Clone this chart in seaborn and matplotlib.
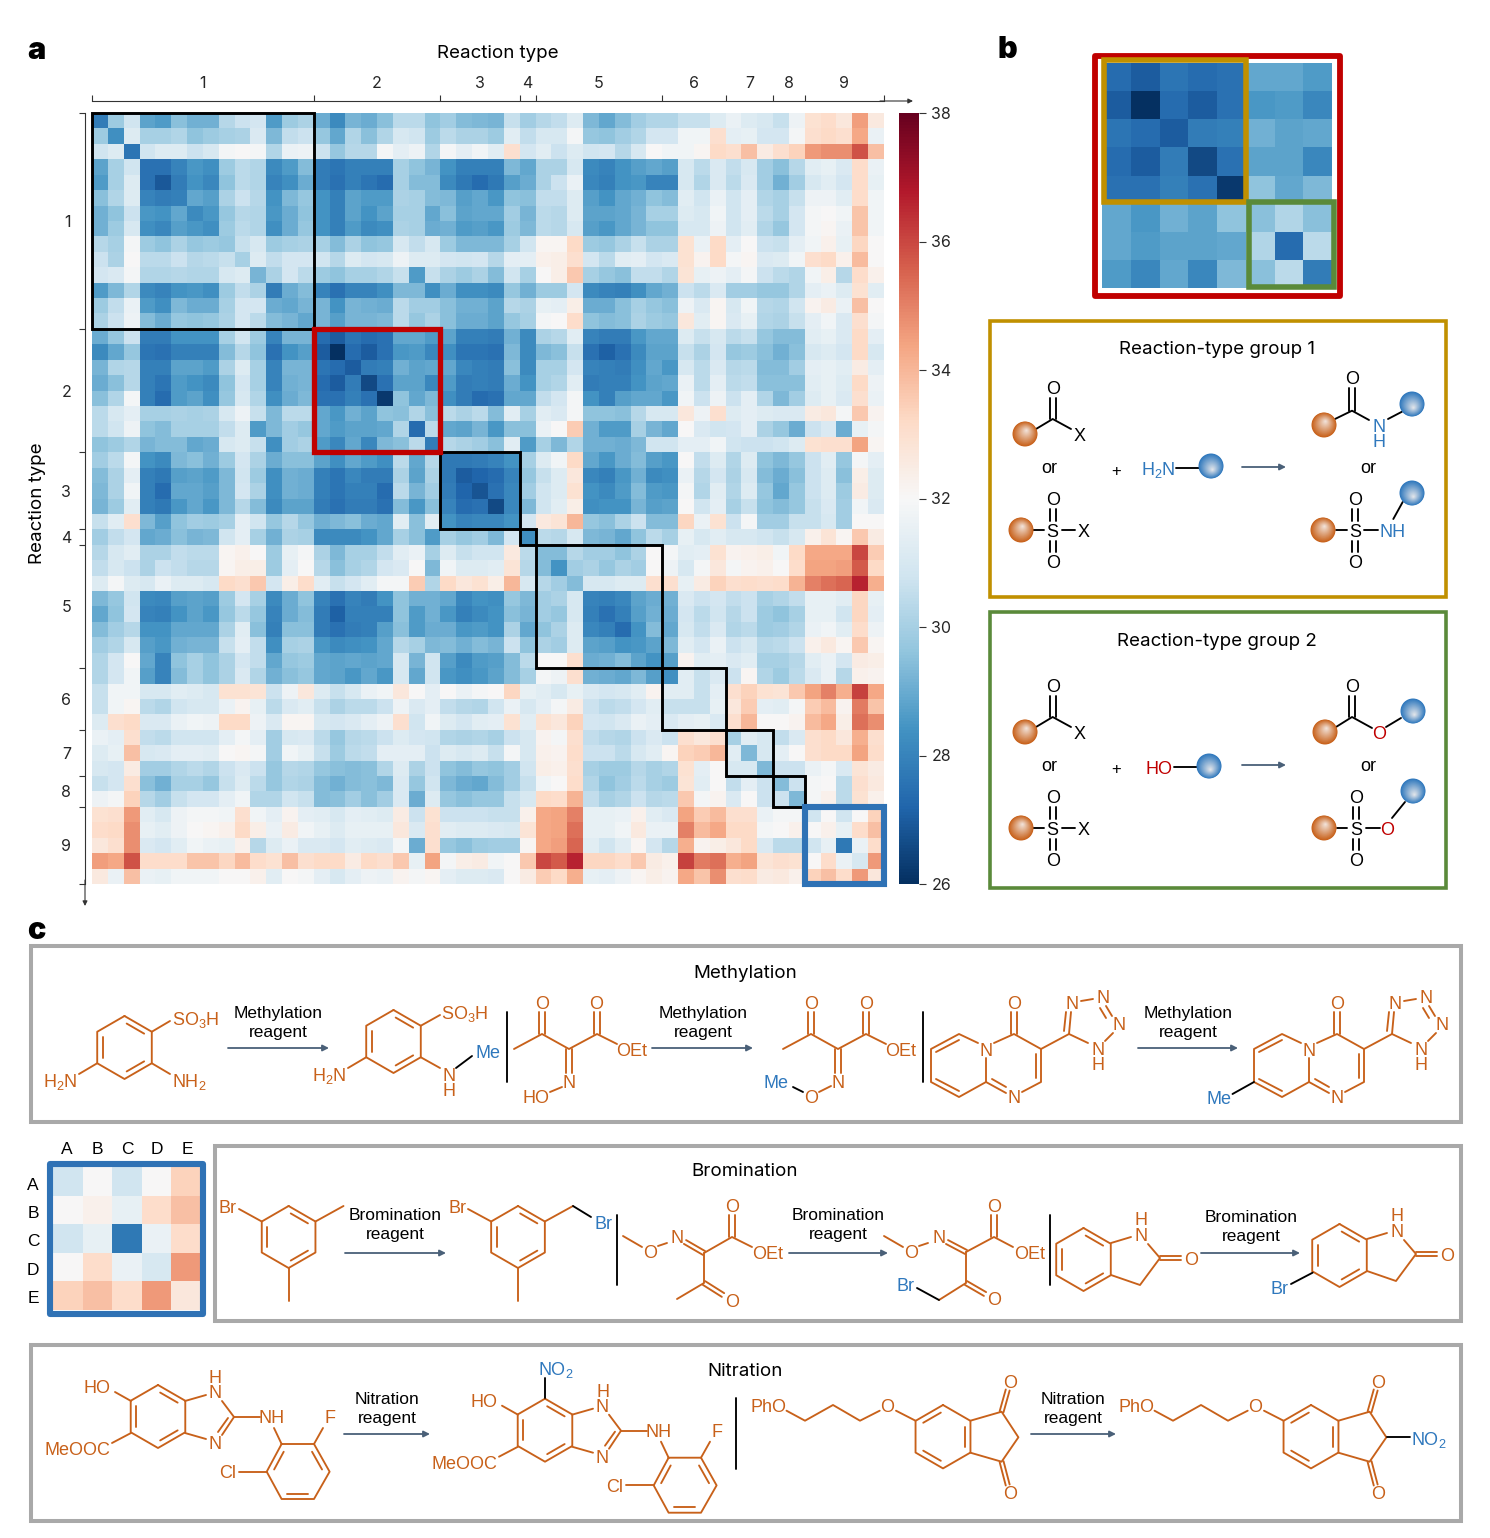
import matplotlib.pyplot as plt
import numpy as np
import seaborn as sns
from matplotlib.patches import Rectangle, Circle
from matplotlib.colors import to_rgb

# Upper triangle of the symmetric reaction-type matrix
row_00 = [27.8,29.8,30.8,28.8,28.6,29.5,29.1,29.1,30.3,30.7,30.9,28.6,29.8,30.1,29.0,28.2,29.2,29.0,29.5,30.4,30.4,29.6,29.9,29.4,29.3,29.2,30.6,29.9,30.3,30.5,31.2,29.3,28.9,29.4,29.9,30.2,30.2,30.6,30.6,31.2,31.6,31.2,31.0,30.6,31.7,32.9,33.1,32.7,34.5,32.6]
row_01 = [28.3,31.2,30.0,30.0,30.2,29.6,29.8,30.0,30.1,31.1,29.3,30.5,30.7,29.7,28.9,30.2,29.5,30.2,31.0,30.8,29.8,30.4,30.1,30.1,29.8,31.3,30.5,31.0,31.0,31.9,29.7,29.6,29.9,30.2,30.9,30.9,31.8,31.8,33.0,31.4,31.5,30.9,30.9,31.9,33.0,33.2,33.0,34.3,31.6]
row_02 = [27.6,30.8,31.2,31.2,30.7,31.0,31.9,32.0,31.9,30.2,31.6,31.7,30.7,29.7,30.3,30.3,31.9,31.4,31.7,30.2,31.9,31.4,31.8,31.3,33.0,30.9,31.3,30.7,31.2,30.8,30.9,30.3,31.0,32.0,31.8,31.8,32.1,33.2,33.0,33.8,32.5,33.0,33.4,34.6,34.8,34.8,35.8,33.8]
row_03 = [27.5,27.5,28.0,28.5,28.3,29.8,30.4,30.2,28.2,28.6,29.4,27.8,27.6,27.9,27.9,27.9,30.0,29.6,29.2,28.4,27.9,27.9,27.9,29.3,28.9,30.1,30.1,31.0,28.2,28.0,28.4,28.7,28.9,28.7,31.0,30.4,31.1,30.5,31.0,29.9,29.5,30.3,31.3,31.5,31.1,33.1,31.6]
row_04 = [26.9,27.8,28.4,28.1,29.6,30.4,30.2,28.0,28.3,29.0,27.8,27.5,27.9,27.6,27.4,30.0,29.4,29.4,28.2,27.7,27.4,27.7,28.7,29.0,30.1,30.7,31.6,28.1,27.9,28.4,28.5,28.0,28.0,31.0,30.2,31.1,30.4,31.1,29.9,29.1,29.9,31.0,31.3,30.9,33.1,31.5]
row_05 = [27.9,28.9,28.7,30.1,30.7,30.3,28.4,29.3,29.7,28.4,27.9,28.8,28.6,28.6,30.1,30.0,29.4,29.3,28.7,28.9,28.5,29.6,29.5,30.5,30.5,31.2,28.7,28.4,28.9,29.1,29.6,29.4,31.3,30.8,31.6,30.8,31.4,30.2,30.0,30.6,31.7,31.7,31.3,33.1,31.8]
row_06 = [28.2,28.5,29.7,30.3,30.2,28.5,29.0,29.6,28.4,27.9,28.8,28.4,28.8,30.0,30.0,28.9,29.5,28.8,28.9,28.9,29.9,29.2,30.4,30.3,31.2,28.8,28.8,28.9,29.2,30.0,30.0,31.2,31.0,31.8,30.8,31.4,30.4,30.0,30.9,31.9,32.0,31.8,33.7,31.8]
row_07 = [28.3,29.8,30.4,30.2,28.3,29.0,29.7,28.4,27.9,28.6,28.2,28.3,30.1,30.0,29.0,29.1,28.6,28.7,28.5,29.8,29.3,30.4,30.3,31.0,28.7,28.5,28.9,29.2,29.6,29.6,31.0,31.0,31.7,30.8,31.3,30.2,29.7,30.9,31.9,32.1,31.6,33.7,31.8]
row_08 = [29.7,30.6,31.0,29.8,30.0,30.1,30.0,29.4,30.1,29.6,29.7,31.0,30.5,31.0,29.8,29.3,29.3,29.3,30.0,30.8,32.1,32.1,33.2,29.8,29.7,30.1,30.6,30.1,30.1,32.9,31.6,33.2,31.4,32.0,30.7,30.6,31.4,31.8,32.3,31.5,33.3,32.0]
row_09 = [30.0,31.2,30.5,30.9,30.9,30.8,30.3,31.2,30.9,31.0,31.7,31.2,31.2,30.9,30.8,30.9,30.3,31.4,31.4,32.3,32.4,33.0,30.9,30.4,31.3,31.4,30.9,31.1,32.9,32.2,33.2,31.9,32.1,31.1,31.2,31.8,33.0,33.2,32.3,33.9,32.0]
row_10 = [29.2,30.1,30.9,30.4,29.8,29.6,30.0,30.0,30.2,30.6,28.6,30.6,30.1,29.8,30.1,29.4,30.8,30.0,32.0,32.4,33.6,30.0,29.7,29.5,30.5,30.5,30.2,32.8,31.5,31.7,31.4,31.9,30.7,30.4,30.2,31.8,32.4,30.3,33.1,32.3]
row_11 = [27.8,29.0,29.4,28.0,27.5,28.0,28.0,28.3,29.3,29.3,28.3,29.0,28.3,28.3,28.2,29.7,29.1,29.8,29.8,30.9,28.2,28.0,27.9,28.3,28.9,29.1,30.7,30.4,31.1,29.9,29.9,29.7,29.7,30.2,31.4,31.6,31.2,32.9,31.3]
row_12 = [28.9,29.2,29.2,28.4,29.2,29.1,29.0,30.4,29.9,29.9,29.5,29.1,29.1,28.8,30.3,30.1,31.5,31.4,32.4,29.0,29.0,29.5,30.0,29.7,29.5,31.7,31.1,32.1,31.0,31.8,30.3,30.2,30.8,32.2,32.5,31.6,33.8,32.0]
row_13 = [28.9,29.2,28.7,29.2,29.2,29.3,30.4,29.7,30.1,29.5,29.0,29.0,28.8,29.7,30.0,31.9,32.0,33.1,29.6,29.4,29.5,30.1,29.8,29.7,32.7,31.3,32.1,31.1,31.5,30.2,30.1,30.6,31.4,31.8,31.1,33.0,31.9]
row_14 = [27.4,27.0,27.6,27.4,27.5,28.9,28.9,28.6,28.8,27.9,27.9,27.8,29.1,28.2,30.1,30.3,31.3,28.0,27.8,27.8,28.5,28.9,28.9,31.2,30.6,31.0,30.4,30.6,29.7,29.4,29.4,31.3,31.5,31.1,33.2,31.4]
row_15 = [26.0,27.4,27.0,27.5,28.5,28.6,28.1,28.3,27.6,27.6,27.5,29.3,28.2,29.3,29.5,30.6,27.5,27.1,27.5,28.2,28.8,28.8,30.6,30.1,30.9,29.7,29.8,29.5,29.1,29.5,31.0,31.2,30.9,33.2,31.0]
row_16 = [27.0,27.8,27.9,29.1,28.8,28.9,28.9,28.1,27.9,27.8,29.5,28.2,30.0,30.0,30.9,28.0,27.9,27.8,28.3,28.9,28.5,31.0,30.4,31.1,30.3,30.4,29.4,29.4,29.9,31.4,31.5,31.3,32.5,31.4]
row_17 = [26.6,27.5,28.8,28.8,28.1,28.6,27.8,27.9,27.8,29.0,28.4,30.0,30.2,31.3,27.8,27.9,27.9,28.4,28.8,28.9,31.6,30.4,31.4,30.4,30.5,29.5,29.5,29.5,31.3,31.5,31.2,33.2,31.7]
row_18 = [26.2,29.6,28.9,29.3,28.3,27.8,27.4,27.5,28.9,28.9,30.5,30.9,31.9,28.4,27.9,28.7,28.9,28.9,28.5,31.8,30.7,31.7,30.7,31.4,30.2,29.3,29.9,31.2,31.5,31.1,33.0,31.6]
row_19 = [29.5,30.2,29.5,30.4,30.1,30.4,29.4,31.3,30.0,31.3,31.1,31.9,29.6,29.6,29.5,30.3,31.0,31.0,32.7,31.7,33.0,31.2,31.4,31.2,31.1,31.1,32.5,32.7,31.9,33.6,32.2]
row_20 = [27.4,30.4,28.9,28.8,29.2,28.5,29.5,29.5,31.6,32.0,33.5,29.1,28.6,28.6,30.0,29.2,28.9,32.0,31.1,30.8,30.9,31.4,30.1,29.7,29.0,30.7,31.1,29.0,31.5,31.9]
row_21 = [27.8,30.3,30.1,29.9,29.5,31.3,28.6,30.0,29.3,30.2,29.1,29.1,29.0,29.3,30.8,30.8,31.4,31.4,31.8,30.8,30.7,30.7,30.8,31.2,32.9,33.0,33.0,34.4,32.1]
row_22 = [27.7,27.7,27.8,28.0,28.4,30.0,31.2,31.8,33.2,28.9,28.5,29.0,29.4,28.7,28.5,32.0,30.5,31.2,30.2,31.2,29.6,29.3,29.7,30.7,31.3,29.7,31.9,31.4]
row_23 = [27.0,27.2,27.4,28.0,29.7,30.6,31.2,32.7,28.1,27.9,28.5,29.1,28.2,28.3,31.6,30.3,30.9,30.1,31.0,29.4,29.0,29.5,30.7,31.2,29.5,32.4,31.2]
row_24 = [26.8,27.5,28.1,29.9,30.8,31.2,32.9,28.4,28.2,28.6,29.4,28.6,28.5,31.9,30.2,31.3,30.2,31.2,29.7,28.9,29.7,30.7,31.2,29.8,32.5,31.2]
row_25 = [26.6,28.1,29.3,30.8,31.3,32.4,28.3,28.4,28.4,29.2,28.7,28.8,32.0,30.8,31.4,30.0,30.6,29.6,29.4,29.7,30.6,31.1,29.9,31.8,31.1]
row_26 = [28.4,30.9,32.6,32.8,34.0,29.7,29.5,30.1,30.7,29.4,29.4,33.3,31.6,32.9,30.7,31.9,29.9,29.9,30.6,30.6,31.0,29.9,32.0,32.0]
row_27 = [28.3,30.4,30.3,31.0,29.3,29.2,28.9,29.6,30.4,30.0,31.5,31.0,31.3,31.0,31.0,30.8,30.6,31.0,32.3,32.8,32.1,33.6,32.5]
row_28 = [29.4,29.4,30.3,29.9,29.9,29.6,30.1,32.0,31.9,31.3,31.4,32.9,32.2,32.3,32.4,31.8,33.2,34.3,34.3,34.3,36.0,33.5]
row_29 = [28.4,29.9,30.1,29.7,30.1,29.9,32.0,31.7,31.0,31.9,32.7,31.9,32.2,32.3,32.0,33.1,34.4,34.4,34.5,35.7,33.2]
row_30 = [29.4,31.0,31.0,31.2,31.2,33.0,33.0,31.5,32.5,33.4,33.0,33.1,33.0,33.1,34.1,35.0,35.3,35.5,36.6,34.2]
row_31 = [28.0,27.9,28.1,28.8,29.0,29.1,31.1,30.7,30.9,30.5,30.7,30.0,30.2,30.5,31.5,31.5,31.3,33.3,31.5]
row_32 = [27.5,27.9,28.7,29.1,29.0,30.9,30.4,30.8,30.3,30.7,29.8,29.6,30.0,31.5,31.5,30.8,33.3,31.4]
row_33 = [27.4,28.4,29.4,28.9,31.0,30.5,31.1,30.2,30.4,29.8,29.9,30.2,31.6,31.8,31.3,33.1,31.7]
row_34 = [28.5,28.8,29.3,31.3,30.9,31.6,30.7,31.0,30.3,30.4,30.7,32.3,32.6,32.1,33.6,32.1]
row_35 = [28.4,28.7,32.2,31.3,31.4,31.1,31.3,30.0,30.0,30.3,31.3,31.6,30.9,32.5,32.4]
row_36 = [28.3,31.3,30.6,31.1,30.7,32.1,30.2,29.8,30.4,31.1,31.6,30.3,32.3,32.2]
row_37 = [31.3,30.6,31.4,33.0,33.4,32.9,32.8,33.6,34.4,35.0,34.2,36.1,34.3]
row_38 = [30.6,31.5,32.7,33.5,31.4,31.3,31.9,33.5,33.9,32.2,35.1,33.7]
row_39 = [31.1,33.0,34.0,32.0,32.0,32.2,33.9,34.3,32.4,35.3,34.8]
row_40 = [30.0,31.3,31.0,30.5,31.1,33.0,33.2,32.7,34.2,33.0]
row_41 = [29.3,31.0,31.4,32.0,33.0,33.2,33.2,34.4,33.1]
row_42 = [29.3,30.7,30.7,31.6,31.9,31.1,32.8,32.5]
row_43 = [29.4,30.7,31.9,32.0,30.4,33.0,32.6]
row_44 = [29.3,31.9,32.3,30.4,32.9,32.3]
row_45 = [30.8,32.0,30.8,32.0,33.4]
row_46 = [32.3,31.5,33.1,33.8]
row_47 = [27.7,31.6,33.1]
row_48 = [31.0,34.6]
row_49 = [32.7]
upper_rows = [row_00,row_01,row_02,row_03,row_04,row_05,row_06,row_07,row_08,row_09,
              row_10,row_11,row_12,row_13,row_14,row_15,row_16,row_17,row_18,row_19,
              row_20,row_21,row_22,row_23,row_24,row_25,row_26,row_27,row_28,row_29,
              row_30,row_31,row_32,row_33,row_34,row_35,row_36,row_37,row_38,row_39,
              row_40,row_41,row_42,row_43,row_44,row_45,row_46,row_47,row_48,row_49]

group_sizes = [14, 8, 5, 1, 8, 4, 3, 2, 5]
group_labels = ["1", "2", "3", "4", "5", "6", "7", "8", "9"]
group_colors = ["black", "#c00000", "black", "black", "black", "black", "black", "black", "#2f72b5"]
cbar_ticks = [26, 28, 30, 32, 34, 36, 38]
abcde = ["A", "B", "C", "D", "E"]

ORANGE = "#c8611a"
BLUE = "#2f78bd"
RED = "#c00000"
ARROW = "#4a6078"
GREY = "#a9a9a9"
GOLD = "#c09000"
GREEN = "#5a8a3a"
W, H = 1490, 1538

sns.set_theme(style="white")
plt.rcParams["font.family"] = ["Inter", "DejaVu Sans"]
plt.rcParams["mathtext.default"] = "regular"

n = len(upper_rows)
matrix = np.zeros((n, n))
for i, r in enumerate(upper_rows):
    matrix[i, i:] = r
    matrix[i:, i] = r

fig = plt.figure(figsize=(W / 100, H / 100), dpi=100)


def px_axes(x0, y0, x1, y1, **kw):
    return fig.add_axes([x0 / W, 1 - y1 / H, (x1 - x0) / W, (y1 - y0) / H], **kw)


# Panel a
ax = px_axes(92, 113, 884, 884)
cax = px_axes(899, 113, 919, 884)
hm = dict(cmap="RdBu_r", vmin=26, vmax=38, xticklabels=False, yticklabels=False)
sns.heatmap(matrix, ax=ax, cbar_ax=cax, **hm)
cax.set_yticks(cbar_ticks)
cax.tick_params(length=5, width=0.8, color="#333333", labelsize=11.5, pad=4, right=True)
for s in cax.spines.values():
    s.set_visible(False)

edges = np.concatenate([[0], np.cumsum(group_sizes)])
centers = (edges[:-1] + edges[1:]) / 2
for i, col in enumerate(group_colors):
    lw = {"black": 2.1, RED: 3.8, "#2f72b5": 4.4}[col]
    ax.add_patch(Rectangle((edges[i], edges[i]), group_sizes[i], group_sizes[i], fill=False,
                           ec=col, lw=lw, clip_on=False, zorder=5 if col == "black" else 6))

ax.xaxis.tick_top()
ax.set_xticks(edges)
ax.set_yticks(edges)
ax.set_xticks(centers, minor=True)
ax.set_yticks(centers, minor=True)
ax.set_xticklabels([])
ax.set_yticklabels([])
ax.set_xticklabels(group_labels, minor=True)
ax.set_yticklabels(group_labels, minor=True)
ax.tick_params(which="major", length=4.5, width=0.8, color="#333333", top=True, left=True, bottom=False)
ax.tick_params(which="minor", length=0, labelsize=11.5, pad=7.5, top=False, bottom=False, left=False)
ax.tick_params(axis="y", which="minor", pad=10)
for side in ["top", "left"]:
    ax.spines[side].set_visible(True)
    ax.spines[side].set_linewidth(0.8)
    ax.spines[side].set_color("#333333")
ax.spines["top"].set_position(("outward", 8.5))
ax.spines["left"].set_position(("outward", 5))

# Panel b
ax_b = px_axes(1102, 63, 1332, 288)
sns.heatmap(matrix[14:22, 14:22], ax=ax_b, cbar=False, **hm)

# Panel c small matrix
ax_c = px_axes(53, 1167, 201, 1310)
sns.heatmap(matrix[45:, 45:], ax=ax_c, cbar=False, **hm)

# everything else sits on one overlay in pixel coordinates
ov = fig.add_axes([0, 0, 1, 1], zorder=10)
ov.set_xlim(0, W)
ov.set_ylim(H, 0)
ov.axis("off")
ov.patch.set_alpha(0)


def line(pts, c=ORANGE, lw=1.35):
    xs, ys = zip(*pts)
    ov.plot(xs, ys, color=c, lw=lw, solid_capstyle="round", solid_joinstyle="round")


def double(p, q, off=3.2, c=ORANGE):
    d = np.array(q, float) - np.array(p, float)
    nrm = np.array([-d[1], d[0]]) / np.hypot(*d) * off
    for s in (-1, 1):
        line([np.array(p) + s * nrm, np.array(q) + s * nrm], c)


def inner(p, q, cen, c=ORANGE):
    p, q, cen = np.array(p, float), np.array(q, float), np.array(cen, float)
    a, b = cen + (p - cen) * 0.8, cen + (q - cen) * 0.8
    line([a + (b - a) * 0.1, b - (b - a) * 0.1], c)


def ring(cx, cy, r, dbl, flat=False, c=ORANGE):
    off = 30 if flat else 0
    v = [(cx + r * np.sin(np.radians(i * 60 + off)), cy - r * np.cos(np.radians(i * 60 + off))) for i in range(6)]
    line(v + v[:1], c)
    for e in dbl:
        inner(v[e], v[(e + 1) % 6], (cx, cy), c)
    return v


def lab(x, y, s, c=ORANGE, fs=13):
    ov.text(x, y + 1.5, s, color=c, fontsize=fs, family="Liberation Sans", ha="center", va="center")


def arrow(x0, x1, y):
    ov.annotate("", xy=(x1, y), xytext=(x0, y),
                arrowprops=dict(arrowstyle="-|>", color=ARROW, lw=1.3, mutation_scale=9, shrinkA=0, shrinkB=0))


def reagent(x, y, s):
    ov.text(x, y, s + "\nreagent", color="black", fontsize=12.5, family="Liberation Sans",
            ha="center", va="center", linespacing=1.35)


def title(x, y, s):
    ov.text(x, y + 2, s, color="black", fontsize=13.5, ha="center", va="center")


def box(x0, y0, x1, y1, c, lw=2.6):
    ov.add_patch(Rectangle((x0, y0), x1 - x0, y1 - y0, fill=False, ec=c, lw=lw))


def ball(x, y, col, r=12.5):
    rgb = np.array(to_rgb(col))
    up = -0.3 if col == ORANGE else 0.3
    for t in np.linspace(0, 1, 26):
        shade = rgb + (np.array([0.97, 0.95, 0.94]) - rgb) * t * 0.9
        rr = r * (1 - t * 0.97)
        ov.add_patch(Circle((x + t * r * 0.12, y + t * r * up), rr, fc=shade, ec="none", zorder=3))


# axis arrows of panel a
ov.annotate("", xy=(913, 101), xytext=(880, 101), arrowprops=dict(arrowstyle="-|>", color="#333333", lw=0.8, mutation_scale=7, shrinkA=0, shrinkB=0))
ov.annotate("", xy=(85, 906), xytext=(85, 880), arrowprops=dict(arrowstyle="-|>", color="#333333", lw=0.8, mutation_scale=7, shrinkA=0, shrinkB=0))
ov.text(498, 53, "Reaction type", fontsize=13.5, ha="center", va="center", color="black")
ov.text(37, 503, "Reaction type", fontsize=13.5, ha="center", va="center", rotation=90, color="black")
for x, y, s in [(36, 51, "a"), (1007, 50, "b"), (36, 931, "c")]:
    ov.text(x, y, s, fontsize=22, fontweight="black", ha="center", va="center", color="black", family="Inter")

# Panel b frames
ov.add_patch(Rectangle((1095, 56), 245, 240, fill=False, ec=RED, lw=4.2, joinstyle="round"))
ov.add_patch(Rectangle((1104, 60), 142, 142, fill=False, ec=GOLD, lw=4))
ov.add_patch(Rectangle((1249, 202), 85, 85, fill=False, ec=GREEN, lw=4))
box(989.5, 321, 1446, 597, GOLD)
box(989.5, 612, 1446, 888, GREEN)
title(1217, 348, "Reaction-type group 1")
title(1217, 640, "Reaction-type group 2")


def reactants(dy):
    ball(1025, 434 + dy, ORANGE)
    line([(1036, 429 + dy), (1052.7, 419 + dy), (1071, 429 + dy)], "black")
    double((1052.7, 398 + dy), (1052.7, 419 + dy), c="black")
    lab(1052.7, 388 + dy, "O", "black")
    lab(1080, 435 + dy, "X", "black")
    lab(1049, 467 + dy, "or", "black")
    ball(1021, 530 + dy, ORANGE)
    sulfonyl(1052.7, dy)
    line([(1033, 530 + dy), (1044, 530 + dy)], "black")
    line([(1062, 530 + dy), (1075, 530 + dy)], "black")
    lab(1084, 531 + dy, "X", "black")
    lab(1116, 470 + dy, "+", "black", 12)
    arrow(1242, 1286, 467 + dy)


def sulfonyl(x, dy):
    lab(x, 531 + dy, "S", "black")
    lab(x, 499 + dy, "O", "black")
    lab(x, 562 + dy, "O", "black")
    double((x, 509 + dy), (x, 521 + dy), c="black")
    double((x, 541 + dy), (x, 552 + dy), c="black")


# group 1
reactants(0)
lab(1158, 468, "H$_2$N", BLUE)
line([(1176, 467.7), (1199, 467.7)], "black")
ball(1211, 466, BLUE)
ball(1324, 425, ORANGE)
line([(1335, 419), (1352, 410.7), (1369, 420)], "black")
double((1352, 388), (1352, 410.7), c="black")
lab(1352, 378, "O", "black")
lab(1379, 426, "N", BLUE)
lab(1379, 441, "H", BLUE)
line([(1388, 419), (1402, 411.7)], "black")
ball(1412, 404, BLUE)
lab(1368, 467, "or", "black")
ball(1323, 530, ORANGE)
line([(1336, 530), (1346.7, 530)], "black")
sulfonyl(1355, 0)
line([(1364, 530), (1378, 530)], "black")
lab(1393, 531, "NH", BLUE)
line([(1393.3, 519), (1402.7, 502)], "black")
ball(1412, 493, BLUE)

# group 2
reactants(298)
lab(1159, 768, "HO", RED)
line([(1174, 767), (1197, 767)], "black")
ball(1209, 766, BLUE)
ball(1325, 732, ORANGE)
line([(1336, 727), (1352, 717), (1372, 728)], "black")
double((1352, 696), (1352, 717), c="black")
lab(1352, 686, "O", "black")
lab(1379, 733, "O", RED)
line([(1386, 727), (1401, 718)], "black")
ball(1413, 711, BLUE)
lab(1368, 765, "or", "black")
ball(1324, 828, ORANGE)
line([(1337, 828), (1347, 828)], "black")
sulfonyl(1356, 298)
line([(1366, 828), (1380, 828)], "black")
lab(1387, 829, "O", RED)
line([(1392, 818), (1405, 802)], "black")
ball(1413, 791, BLUE)

# Panel c frames
box(31, 946, 1461, 1122, GREY, 2.9)
box(215, 1146, 1461, 1321, GREY, 2.9)
box(31, 1345, 1461, 1521, GREY, 2.9)
ov.add_patch(Rectangle((50, 1164), 153, 150, fill=False, ec="#2f72b5", lw=4.4, joinstyle="round"))
for i, s in enumerate(abcde):
    ov.text(67 + 30 * i, 1150, s, fontsize=12.5, ha="center", va="center", family="Liberation Sans", color="black")
    ov.text(33, 1185 + 28.4 * i, s, fontsize=12.5, ha="center", va="center", family="Liberation Sans", color="black")
title(745, 972, "Methylation")
title(745, 1170, "Bromination")
title(745, 1369, "Nitration")
for x, y0, y1 in [(507, 1012, 1082), (923, 1012, 1082), (617, 1215, 1285), (1050, 1215, 1285), (736, 1398, 1469)]:
    line([(x, y0), (x, y1)], "black")

# Methylation row
v = ring(124.5, 1047.5, 31.5, [0, 2, 4])
line([v[1], (170, 1021)])
lab(196, 1018, "SO$_3$H")
line([v[4], (79, 1074)])
lab(60, 1081, "H$_2$N")
line([v[2], (170, 1074)])
lab(189, 1081, "NH$_2$")
arrow(228, 329, 1048)
reagent(278, 1023, "Methylation")
v = ring(393.5, 1041.5, 31.5, [0, 2, 4])
line([v[1], (440, 1015)])
lab(465, 1012, "SO$_3$H")
line([v[4], (348, 1068)])
lab(329, 1075, "H$_2$N")
line([v[2], (440, 1068)])
lab(449, 1075, "N")
lab(449, 1090, "H")
line([(456, 1068), (472, 1056)], "black")
lab(488, 1052, "Me", BLUE)

line([(514, 1049), (542, 1034), (569, 1049), (597, 1034), (617, 1044)])
double((542, 1012), (542, 1034))
double((597, 1012), (597, 1034))
lab(542, 1003, "O")
lab(596, 1003, "O")
lab(632, 1050, "OEt")
double((569, 1049), (569, 1073))
lab(569, 1082, "N")
line([(562, 1087), (550, 1092)])
lab(536, 1097, "HO")
arrow(652, 753, 1048)
reagent(703, 1023, "Methylation")

line([(783, 1049), (811, 1034), (838, 1049), (866, 1034), (886, 1044)])
double((811, 1012), (811, 1034))
double((866, 1012), (866, 1034))
lab(811, 1003, "O")
lab(866, 1003, "O")
lab(901, 1050, "OEt")
double((838, 1049), (838, 1073))
lab(838, 1082, "N")
line([(831, 1086), (819, 1092)])
lab(811, 1097, "O")
line([(793, 1087), (803, 1092)], "black")
lab(776, 1082, "Me", BLUE)


def pyrido(dx):
    line([(986 + dx, 1082), (959 + dx, 1097), (931 + dx, 1082), (931 + dx, 1049), (959 + dx, 1034), (978 + dx, 1043)])
    line([(986 + dx, 1058), (986 + dx, 1082), (1006 + dx, 1093)])
    line([(994 + dx, 1043), (1014 + dx, 1034), (1041 + dx, 1049), (1041 + dx, 1082), (1022 + dx, 1092)])
    line([(936 + dx, 1079), (959 + dx, 1091)])
    line([(936 + dx, 1052), (959 + dx, 1040)])
    line([(992 + dx, 1079), (1006 + dx, 1087)])
    line([(1036 + dx, 1054), (1036 + dx, 1078)])
    double((1014 + dx, 1012), (1014 + dx, 1034))
    lab(1014 + dx, 1003, "O")
    lab(986 + dx, 1050, "N")
    lab(1014 + dx, 1097, "N")
    line([(1041 + dx, 1049), (1069 + dx, 1034), (1088 + dx, 1043)])
    line([(1069 + dx, 1034), (1071 + dx, 1012)])
    line([(1064 + dx, 1031), (1066 + dx, 1012)])
    line([(1081 + dx, 1001), (1093 + dx, 999)])
    line([(1106 + dx, 1006), (1112 + dx, 1016)])
    line([(1100 + dx, 1008), (1106 + dx, 1018)])
    line([(1113 + dx, 1033), (1105 + dx, 1041)])
    lab(1072 + dx, 1003, "N")
    lab(1103 + dx, 997, "N")
    lab(1119 + dx, 1024, "N")
    lab(1098 + dx, 1049, "N")
    lab(1098 + dx, 1064, "H")


pyrido(0)
arrow(1138, 1238, 1048)
reagent(1188, 1023, "Methylation")
pyrido(323)
line([(1254, 1082), (1232.5, 1094)], "black")
lab(1219, 1098, "Me", BLUE)

# Bromination row
v = ring(288.6, 1237, 31, [0, 2, 4])
line([v[5], (239, 1209)])
lab(228, 1207, "Br")
line([v[1], (343.5, 1206)])
line([v[3], (288.6, 1301)])
arrow(345, 446, 1253)
reagent(395, 1225, "Bromination")
v = ring(518, 1237, 31, [0, 2, 4])
line([v[5], (468, 1209)])
lab(458, 1207, "Br")
line([v[1], (573, 1206)])
line([(573, 1206), (591, 1217)], "black")
lab(603, 1223, "Br", BLUE)
line([v[3], (518, 1301)])

line([(623, 1236), (642, 1247)])
lab(650, 1252, "O")
line([(658, 1246), (667, 1243)])
lab(677, 1237, "N")
double((685, 1242), (704, 1253), 2.2)
line([(704, 1253), (732, 1237), (752, 1247)])
double((732, 1215), (732, 1237))
lab(732, 1206, "O")
lab(768, 1253, "OEt")
line([(704, 1253), (704, 1283), (677, 1299)])
double((704, 1283), (723, 1295), 2.2)
lab(732, 1301, "O")
arrow(789, 888, 1253)
reagent(838, 1225, "Bromination")

line([(884, 1236), (903, 1247)])
lab(911, 1252, "O")
line([(919, 1246), (928, 1243)])
lab(939, 1237, "N")
double((947, 1242), (966, 1252), 2.2)
line([(966, 1252), (994, 1237), (1013, 1247)])
double((994, 1215), (994, 1237))
lab(994, 1206, "O")
lab(1030, 1253, "OEt")
line([(966, 1252), (966, 1283), (939, 1300)])
double((966, 1283), (985, 1294), 2.2)
lab(994, 1299, "O")
line([(939, 1300), (917, 1288)], "black")
lab(906, 1285, "Br", BLUE)


def oxindole(dx, dy):
    ring(1083.5 + dx, 1259.5 + dy, 31.5, [0, 2, 4])
    line([(1111 + dx, 1243 + dy), (1131 + dx, 1237 + dy)])
    lab(1141 + dx, 1235 + dy, "N")
    lab(1141 + dx, 1219 + dy, "H")
    line([(1148 + dx, 1244 + dy), (1160 + dx, 1258 + dy), (1140 + dx, 1285 + dy), (1111 + dx, 1275 + dy)])
    double((1160 + dx, 1258 + dy), (1181 + dx, 1258 + dy), 2.2)
    lab(1191 + dx, 1259 + dy, "O")


oxindole(0, 0)
arrow(1201, 1300, 1253)
reagent(1251, 1227, "Bromination")
oxindole(256, -4)
line([(1312.6, 1272.7), (1291, 1284)], "black")
lab(1279, 1288, "Br", BLUE)


# Nitration row
def benzimidazole(dx, dy):
    ring(158 + dx, 1416.5 + dy, 31.5, [0, 2, 4])
    line([(131 + dx, 1401 + dy), (115 + dx, 1392 + dy)])
    lab(97 + dx, 1387 + dy, "HO")
    line([(131 + dx, 1433 + dy), (112 + dx, 1443 + dy)])
    lab(77 + dx, 1449 + dy, "MeOOC")
    lab(215.5 + dx, 1392 + dy, "N")
    lab(215.5 + dx, 1377 + dy, "H")
    lab(215.5 + dx, 1443 + dy, "N")
    line([(185 + dx, 1401 + dy), (206 + dx, 1395 + dy)])
    line([(185 + dx, 1433 + dy), (206 + dx, 1439 + dy)])
    line([(222 + dx, 1401 + dy), (234 + dx, 1417 + dy), (222 + dx, 1435 + dy)])
    line([(228 + dx, 1418 + dy), (218 + dx, 1432 + dy)])
    line([(234 + dx, 1417 + dy), (260 + dx, 1417 + dy)])
    lab(272 + dx, 1417 + dy, "NH")
    line([(274 + dx, 1428 + dy), (281.6 + dx, 1444 + dy)])
    ph = [(281.6, 1444), (314, 1444), (329.6, 1471.7), (314, 1499), (281.6, 1499), (266.7, 1471.7)]
    ph = [(a + dx, b + dy) for a, b in ph]
    line(ph + ph[:1])
    cen = (298 + dx, 1471.7 + dy)
    for i in [1, 3, 5]:
        inner(ph[i], ph[(i + 1) % 6], cen)
    line([(314 + dx, 1444 + dy), (323 + dx, 1428 + dy)])
    lab(329.6 + dx, 1417 + dy, "F")
    line([(266.7 + dx, 1471.7 + dy), (239 + dx, 1471.7 + dy)])
    lab(228 + dx, 1472 + dy, "Cl")


benzimidazole(0, 0)
arrow(344, 430, 1434)
reagent(387, 1409, "Nitration")
benzimidazole(387, 13.7)
line([(545, 1398), (545, 1378)], "black")
lab(556, 1369, "NO$_2$", BLUE)


def indanedione(dx):
    lab(768 + dx, 1406.5, "PhO")
    line([(786.5 + dx, 1410.7), (805 + dx, 1420.7), (833 + dx, 1405), (860 + dx, 1420.7), (879.7 + dx, 1410.7)])
    lab(887.6 + dx, 1406, "O")
    line([(896 + dx, 1410.7), (915.5 + dx, 1420.7)])
    ring(943 + dx, 1436.7, 31.7, [1, 3, 5])
    line([(970.4 + dx, 1420.7), (1001.6 + dx, 1411.7), (1018.4 + dx, 1437.3), (1001.6 + dx, 1461.7), (970.4 + dx, 1452.7)])
    double((1001.6 + dx, 1411.7), (1007.7 + dx, 1390), 2)
    double((1001.6 + dx, 1461.7), (1007.7 + dx, 1485), 2)
    lab(1010 + dx, 1382, "O")
    lab(1010 + dx, 1493, "O")


indanedione(0)
arrow(1031, 1116, 1434)
reagent(1073, 1409, "Nitration")
indanedione(368)
line([(1387, 1436.7), (1409.5, 1436.7)], "black")
lab(1429, 1438, "NO$_2$", BLUE)

plt.savefig("out.png", dpi=100)
plt.close()
